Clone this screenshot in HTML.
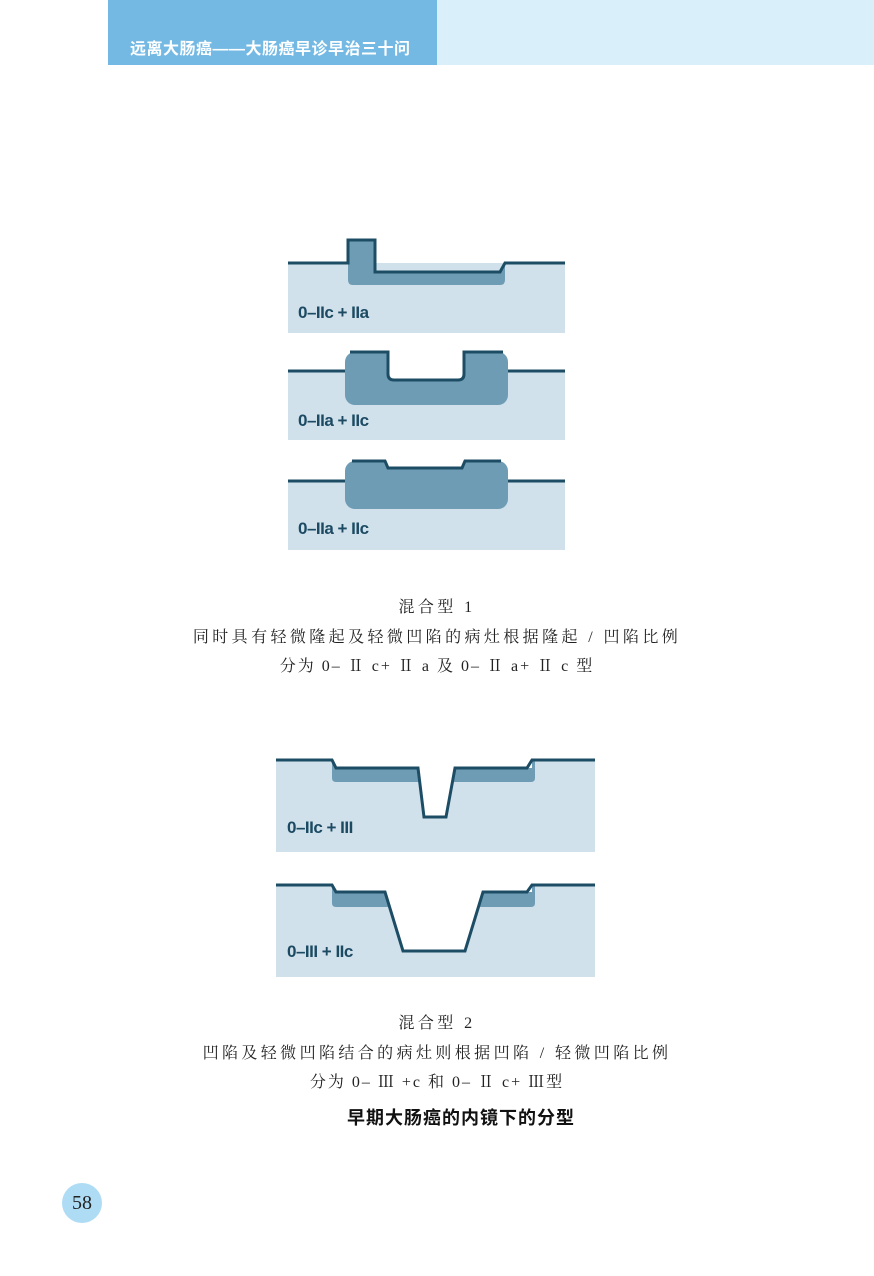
<!DOCTYPE html>
<html><head><meta charset="utf-8"><style>
html,body{margin:0;padding:0;background:#fff;}
body{width:874px;height:1276px;position:relative;overflow:hidden;font-family:"Liberation Serif","Noto Serif CJK SC",serif;}
.hb{position:absolute;left:108px;top:0;width:329px;height:65px;background:#74b9e3;}
.hl{position:absolute;left:437px;top:0;width:437px;height:65px;background:#d9effa;}
.ht{position:absolute;left:130px;top:35px;color:#fff;font:bold 16px "Liberation Sans","Noto Sans CJK SC",sans-serif;letter-spacing:0.5px;}
.c{position:absolute;left:0;width:874px;text-align:center;font-size:16px;color:#222;letter-spacing:3.4px;}
.pn{position:absolute;left:62px;top:1183px;width:40px;height:40px;border-radius:50%;background:#aedcf5;text-align:center;line-height:40px;font-size:20px;color:#222;}
</style></head><body>
<div class="hb"></div><div class="hl"></div>
<div class="ht">远离大肠癌——大肠癌早诊早治三十问</div>
<svg width="874" height="1276" style="position:absolute;left:0;top:0" xmlns="http://www.w3.org/2000/svg">
<g font-family="Liberation Sans, sans-serif" font-weight="bold" fill="#1c4a63" font-size="17">
<rect x="288" y="263" width="277" height="70" fill="#d0e1eb"/>
<path d="M348 240 H375 V272 H500 L505 263 V280 Q505 285 500 285 H353 Q348 285 348 280 Z" fill="#6e9cb4"/>
<path d="M288 263 H348 V240 H375 V272 H500 L505 263 H565" fill="none" stroke="#1d4d65" stroke-width="3"/>
<text x="298" y="318" letter-spacing="-0.5">0–IIc + IIa</text>
<rect x="288" y="371" width="277" height="69" fill="#d0e1eb"/>
<rect x="345" y="352" width="163" height="53" rx="10" fill="#6e9cb4"/>
<path d="M388 352 V374 Q388 380 394 380 H458 Q464 380 464 374 V352 Z" fill="#fff"/>
<path d="M288 371 H345 M350 352 H388 V374 Q388 380 394 380 H458 Q464 380 464 374 V352 H503 M508 371 H565" fill="none" stroke="#1d4d65" stroke-width="3"/>
<text x="298" y="426" letter-spacing="-0.5">0–IIa + IIc</text>
<rect x="288" y="481" width="277" height="69" fill="#d0e1eb"/>
<rect x="345" y="461" width="163" height="48" rx="10" fill="#6e9cb4"/>
<path d="M385 461 L388 468 H462 L465 461 Z" fill="#fff"/>
<path d="M288 481 H345 M352 461 H385 L388 468 H462 L465 461 H501 M508 481 H565" fill="none" stroke="#1d4d65" stroke-width="3"/>
<text x="298" y="534" letter-spacing="-0.5">0–IIa + IIc</text>
<rect x="276" y="760" width="319" height="92" fill="#d0e1eb"/>
<path d="M332 760 H535 V778 Q535 782 531 782 H336 Q332 782 332 778 Z" fill="#6e9cb4"/>
<path d="M330 758 H532 V768 H455 L446 817 H424 L418 768 H336 Z" fill="#fff"/>
<path d="M276 760 H332 L336 768 H418 L424 817 H446 L455 768 H527 L532 760 H595" fill="none" stroke="#1d4d65" stroke-width="3"/>
<text x="287" y="833" letter-spacing="-0.5">0–IIc + III</text>
<rect x="276" y="885" width="319" height="92" fill="#d0e1eb"/>
<path d="M332 885 H535 V903 Q535 907 531 907 H336 Q332 907 332 903 Z" fill="#6e9cb4"/>
<path d="M330 883 H532 V892 H483 L465 951 H403 L385 892 H336 Z" fill="#fff"/>
<path d="M276 885 H332 L336 892 H385 L403 951 H465 L483 892 H527 L532 885 H595" fill="none" stroke="#1d4d65" stroke-width="3"/>
<text x="287" y="957" letter-spacing="-0.5">0–III + IIc</text>
</g>
</svg>
<div class="c" style="top:594px">混合型 1</div>
<div class="c" style="top:624px">同时具有轻微隆起及轻微凹陷的病灶根据隆起 / 凹陷比例</div>
<div class="c" style="top:653px;letter-spacing:2px">分为 0– Ⅱ c+ Ⅱ a 及 0– Ⅱ a+ Ⅱ c 型</div>
<div class="c" style="top:1010px">混合型 2</div>
<div class="c" style="top:1040px">凹陷及轻微凹陷结合的病灶则根据凹陷 / 轻微凹陷比例</div>
<div class="c" style="top:1069px;letter-spacing:2px">分为 0– Ⅲ +c 和 0– Ⅱ c+ Ⅲ型</div>
<div class="c" style="top:1104px;left:24px;font:bold 18px 'Liberation Sans','Noto Sans CJK SC',sans-serif;letter-spacing:1px;color:#111">早期大肠癌的内镜下的分型</div>
<div class="pn">58</div>
</body></html>
